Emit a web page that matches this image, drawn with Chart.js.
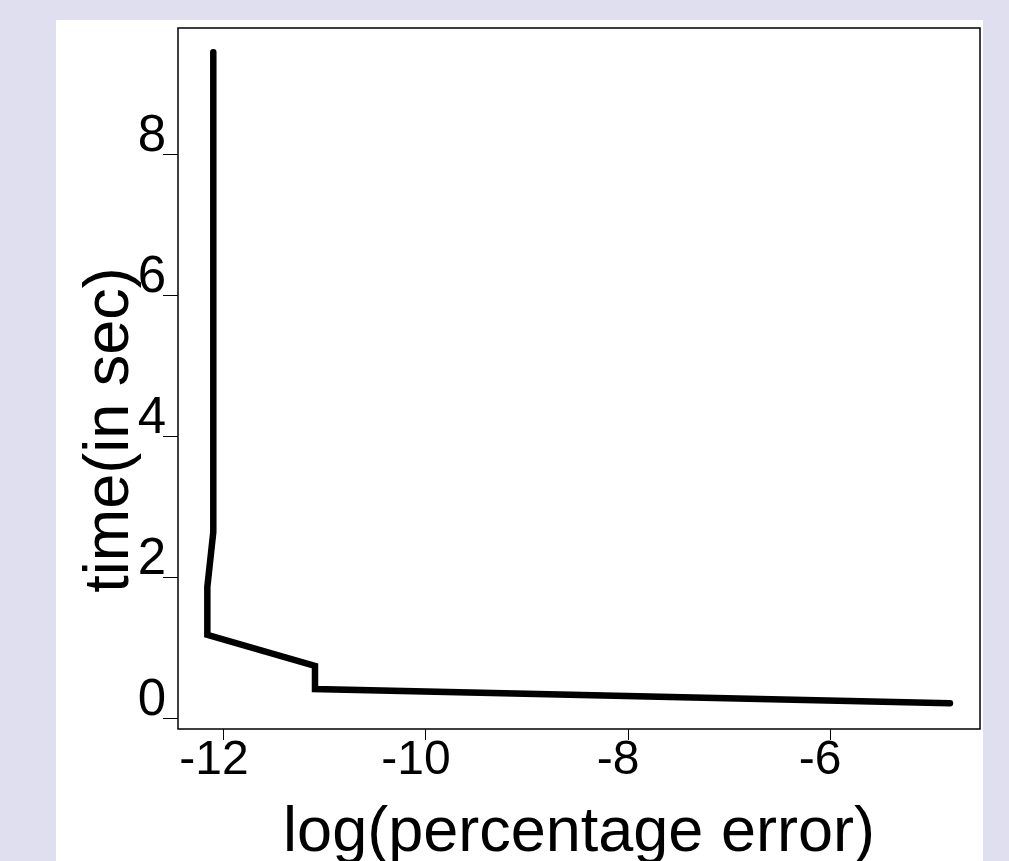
<!DOCTYPE html>
<html>
<head>
<meta charset="utf-8">
<script src="https://cdn.jsdelivr.net/npm/chart.js@4/dist/chart.umd.min.js"></script>
<style>
  body { margin: 0; background: #dfdfef; width: 1009px; height: 861px; overflow: hidden; position: relative; }
  #panel { position: absolute; left: 56px; top: 20px; width: 927px; height: 841px; background: #fff; }
  #chart { position: absolute; left: 0; top: 0; }
</style>
</head>
<body>
<div id="panel"></div>
<canvas id="chart" width="1009" height="861"></canvas>
<script>
  // values
  const logError = [-12.106, -12.106, -12.165, -12.165, -11.099, -11.099, -4.812];
  const timeSec = [9.45, 2.64, 1.86, 1.18, 0.74, 0.41, 0.21];
  const xTicks = [-12, -10, -8, -6];
  const yTicks = [0, 2, 4, 6, 8];
  const xTitle = 'log(percentage error)';
  const yTitle = 'time(in sec)';

  const font = 'Liberation Sans, Arial, Helvetica, sans-serif';

  // box round the plot and the two axis titles
  const frame = {
    id: 'frame',
    afterDraw(chart) {
      const ctx = chart.ctx;
      const a = chart.chartArea;
      ctx.save();
      ctx.strokeStyle = '#000';
      ctx.lineWidth = 1.5;
      ctx.strokeRect(a.left, a.top, a.right - a.left, a.bottom - a.top);

      ctx.fillStyle = '#000';
      ctx.font = '63px ' + font;
      ctx.textAlign = 'center';
      ctx.textBaseline = 'alphabetic';
      ctx.fillText(xTitle, (a.left + a.right) / 2, 851);

      ctx.translate(128, 430);
      ctx.rotate(-Math.PI / 2);
      ctx.fillText(yTitle, 0, 0);
      ctx.restore();
    }
  };

  new Chart(document.getElementById('chart'), {
    type: 'line',
    data: {
      datasets: [{
        data: logError.map((x, i) => ({ x: x, y: timeSec[i] })),
        borderColor: '#000',
        borderWidth: 6.5,
        borderCapStyle: 'round',
        borderJoinStyle: 'miter',
        tension: 0,
        fill: false,
        pointRadius: 0
      }]
    },
    options: {
      responsive: false,
      animation: false,
      layout: { padding: { top: 28, right: 29, left: 0, bottom: 0 } },
      plugins: { legend: { display: false }, tooltip: { enabled: false } },
      scales: {
        x: {
          type: 'linear',
          min: -12.4554,
          max: -4.5149,
          afterBuildTicks: axis => { axis.ticks = xTicks.map(v => ({ value: v })); },
          afterFit: axis => { axis.height = 132; },
          grid: { drawOnChartArea: false, drawTicks: true, tickLength: 11, color: '#000', lineWidth: 1 },
          border: { display: false },
          ticks: { color: '#000', font: { family: font, size: 48 }, padding: -8, labelOffset: -10, maxRotation: 0 }
        },
        y: {
          type: 'linear',
          min: -0.156,
          max: 9.793,
          afterBuildTicks: axis => { axis.ticks = yTicks.map(v => ({ value: v })); },
          afterFit: axis => { axis.width = 178; },
          grid: { drawOnChartArea: false, drawTicks: true, tickLength: 15, color: '#000', lineWidth: 1 },
          border: { display: false },
          ticks: { color: '#000', font: { family: font, size: 51 }, padding: -3, labelOffset: -17 }
        }
      }
    },
    plugins: [frame]
  });
</script>
</body>
</html>
